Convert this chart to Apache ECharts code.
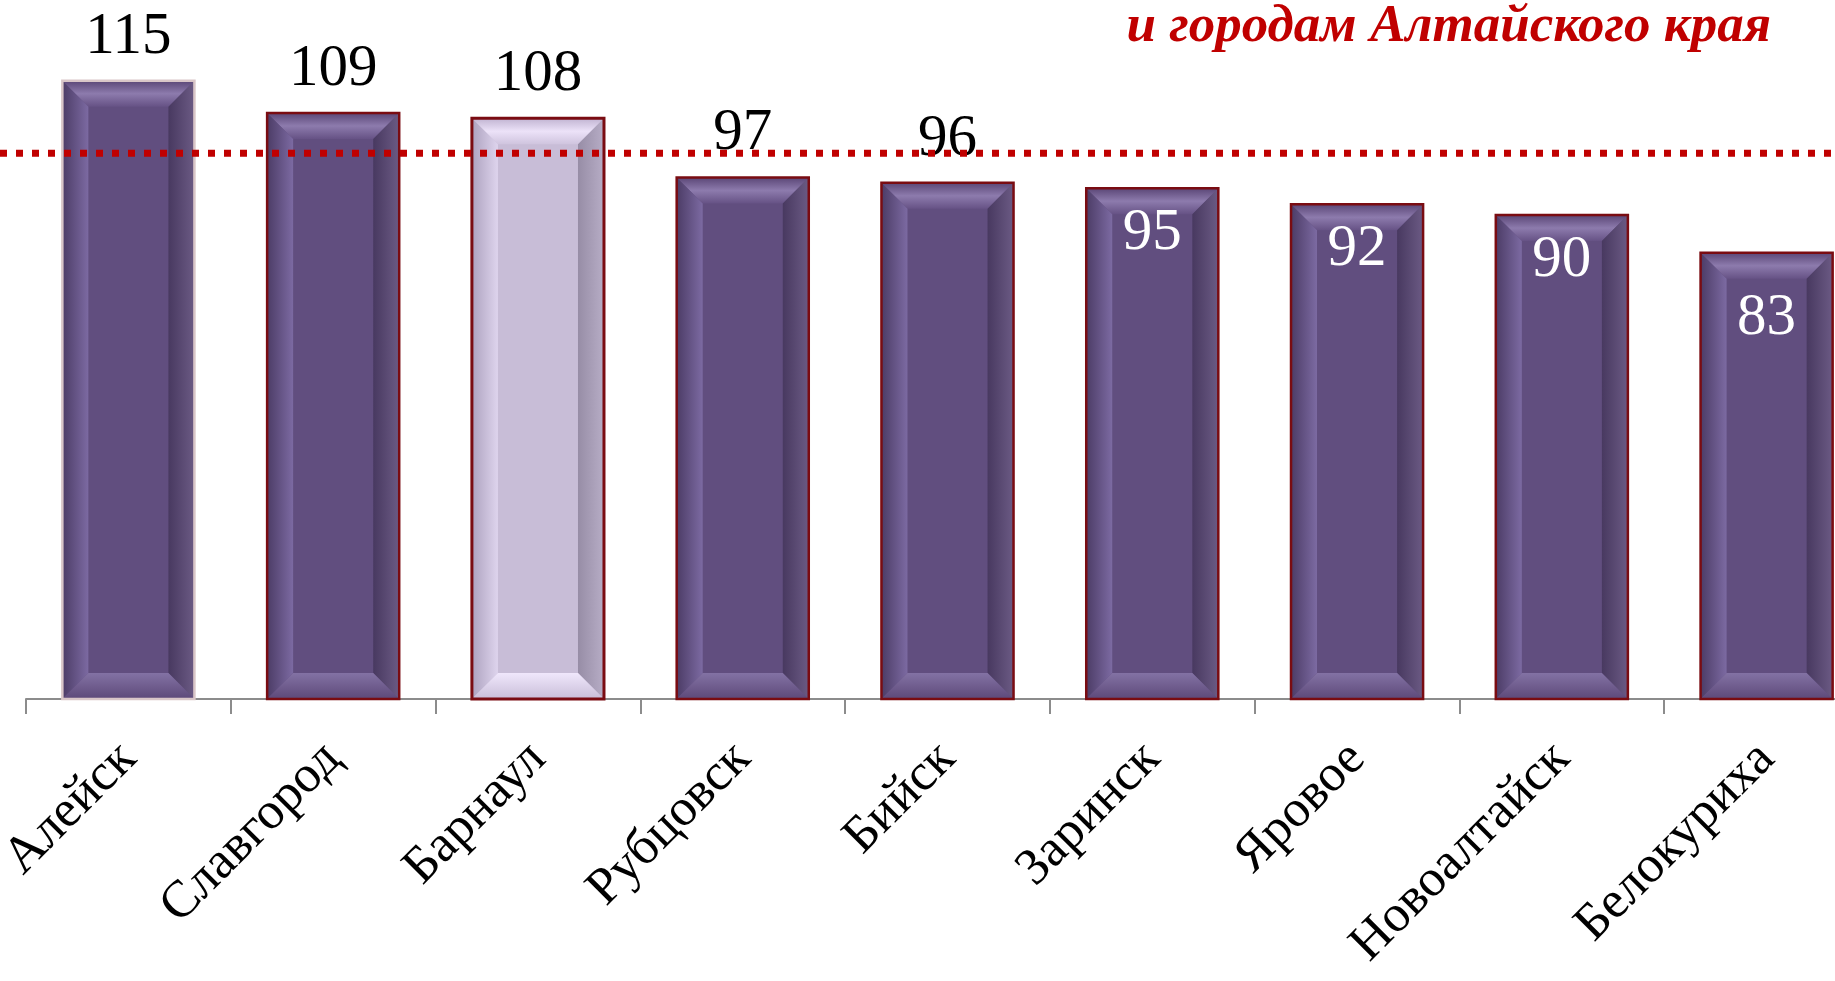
<!DOCTYPE html>
<html>
<head>
<meta charset="utf-8">
<script src="https://cdn.jsdelivr.net/npm/echarts@6/dist/echarts.min.js"></script>
<style>
    html, body {margin: 0; padding: 0; background: #fff;}
    #chart {width: 1835px; height: 981px;}
</style>
</head>
<body>
<div id="chart"></div>
<script>
    // города
    var cities = ['Алейск', 'Славгород', 'Барнаул', 'Рубцовск', 'Бийск', 'Заринск', 'Яровое', 'Новоалтайск', 'Белокуриха'];
    // значения
    var values = [115, 109, 108, 97, 96, 95, 92, 90, 83];
    // средний уровень (пунктир)
    var avgLevel = 101.5;
    var titleText = 'и городам Алтайского края';

    var FONT = '"Liberation Serif", "Times New Roman", serif';

    var darkPal = {
        face: '#614e7f',
        top: ['#5a4676', '#8d7bad', '#665285'],
        left: ['#4c3c66', '#7c6aa2'],
        right: ['#483960', '#6b5a84'],
        bottom: ['#8372a4', '#5d4979'],
        stroke: '#7a0c12'
    };
    var lightPal = {
        face: '#c8bdd7',
        top: ['#c0b3d1', '#ece2f8', '#cfc4de'],
        left: ['#ada2bf', '#ded4ed'],
        right: ['#978da6', '#b7adc6'],
        bottom: ['#f0e7fc', '#c9bed8'],
        stroke: '#7a0c12'
    };

    function grad(x, y, x2, y2, cols) {
        var stops = cols.map(function (c, i) {
            return {offset: i / (cols.length - 1), color: c};
        });
        return new echarts.graphic.LinearGradient(x, y, x2, y2, stops);
    }

    var chart = echarts.init(document.getElementById('chart'));

    var option = {
        backgroundColor: '#fff',
        animation: false,
        grid: {left: 26, top: 0, width: 1843, height: 699, outerBoundsMode: 'none', containLabel: false},
        xAxis: {
            type: 'category',
            data: cities,
            boundaryGap: true,
            axisLine: {lineStyle: {color: '#8c8c8c', width: 2}},
            axisTick: {show: true, alignWithLabel: false, interval: 0, length: 15, lineStyle: {color: '#8c8c8c', width: 2}},
            axisLabel: {
                rotate: 45,
                margin: 52,
                color: '#000',
                fontSize: 52,
                fontFamily: FONT,
                interval: 0,
                hideOverlap: false
            }
        },
        yAxis: {
            type: 'value',
            min: 0,
            max: 130,
            show: false,
            splitLine: {show: false}
        },
        series: [{
            type: 'custom',
            clip: false,
            data: values.map(function (v, i) { return [i, v]; }),
            renderItem: function (params, api) {
                var i = params.dataIndex;
                var v = api.value(1);
                var top = api.coord([api.value(0), v]);
                var base = api.coord([api.value(0), 0]);
                var bw = api.size([1, 0])[0] * 0.645;
                var x0 = top[0] - bw / 2, x1 = top[0] + bw / 2;
                var y0 = top[1], y1 = base[1];
                var b = 26;
                var p = i === 2 ? lightPal : darkPal;
                var stroke = i === 0 ? '#d9c6c8' : p.stroke;
                var kids = [
                    {type: 'rect', shape: {x: x0, y: y0, width: bw, height: y1 - y0}, style: {fill: p.face}},
                    {type: 'polygon', shape: {points: [[x0, y0], [x1, y0], [x1 - b, y0 + b], [x0 + b, y0 + b]]},
                        style: {fill: grad(0, 0, 0, 1, p.top)}},
                    {type: 'polygon', shape: {points: [[x0, y0], [x0 + b, y0 + b], [x0 + b, y1 - b], [x0, y1]]},
                        style: {fill: grad(0, 0, 1, 0, p.left)}},
                    {type: 'polygon', shape: {points: [[x1, y0], [x1, y1], [x1 - b, y1 - b], [x1 - b, y0 + b]]},
                        style: {fill: grad(0, 0, 1, 0, p.right)}},
                    {type: 'polygon', shape: {points: [[x0, y1], [x0 + b, y1 - b], [x1 - b, y1 - b], [x1, y1]]},
                        style: {fill: grad(0, 0, 0, 1, p.bottom)}},
                    {type: 'rect', shape: {x: x0, y: y0, width: bw, height: y1 - y0},
                        style: {fill: 'none', stroke: stroke, lineWidth: i === 2 ? 3 : 2.5}}
                ];
                var inside = i >= 5;
                var dy = inside ? (i === 8 ? 36 : 16) : -14;
                kids.push({
                    type: 'text',
                    style: {
                        text: String(values[i]),
                        x: top[0],
                        y: y0 + dy,
                        align: 'center',
                        verticalAlign: inside ? 'top' : 'bottom',
                        fontSize: 59,
                        fontFamily: FONT,
                        fill: inside ? '#fff' : '#000'
                    }
                });
                return {type: 'group', children: kids};
            }
        }]
    };
    chart.setOption(option);

    //пунктирная линия и заголовок
    var lineY = chart.convertToPixel({yAxisIndex: 0}, avgLevel);
    chart.setOption({
        graphic: [{
            type: 'line',
            z: 100,
            shape: {x1: 0, y1: lineY, x2: 1835, y2: lineY},
            style: {stroke: '#c00000', lineWidth: 7, lineDash: [7, 9]}
        }, {
            type: 'text',
            right: 64,
            top: 1,
            style: {
                text: titleText,
                fill: '#c00000',
                fontSize: 53,
                fontStyle: 'italic',
                fontWeight: 'bold',
                fontFamily: FONT
            }
        }]
    });
</script>
</body>
</html>
